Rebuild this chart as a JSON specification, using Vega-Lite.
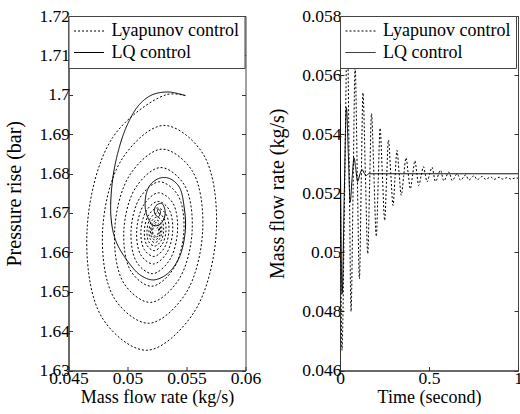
{
  "$schema": "https://vega.github.io/schema/vega-lite/v6.json",
  "padding": {"left": 3.5, "top": 6, "right": 0, "bottom": 0},
  "bounds": "flush",
  "spacing": 94.5,
  "background": "white",
  "config": {
    "font": "'Liberation Serif', 'Times New Roman', serif",
    "view": {"stroke": "#444", "strokeWidth": 1},
    "axis": {
      "labelFont": "'Liberation Serif', 'Times New Roman', serif", "titleFont": "'Liberation Serif', 'Times New Roman', serif",
      "labelFontSize": 17.5, "titleFontSize": 18, "titleFontWeight": "normal",
      "labelColor": "black", "titleColor": "black",
      "domainColor": "#333", "tickColor": "#333", "grid": false,
      "tickSize": -4, "labelPadding": 3, "labelFlush": false, "labelOverlap": false, "labelBound": false
    },
    "legend": {
      "labelFont": "'Liberation Serif', 'Times New Roman', serif", "labelFontSize": 18, "labelColor": "black"
    }
  },
  "datasets": {
    "phase": [
      {"series": "Lyapunov control", "step": 1, "flow": 0.0549, "pressure": 1.6998},
      {"series": "Lyapunov control", "step": 2, "flow": 0.05326, "pressure": 1.7000},
      {"series": "Lyapunov control", "step": 3, "flow": 0.04874, "pressure": 1.68913},
      {"series": "Lyapunov control", "step": 4, "flow": 0.04657, "pressure": 1.6655},
      {"series": "Lyapunov control", "step": 5, "flow": 0.04786, "pressure": 1.64334},
      {"series": "Lyapunov control", "step": 6, "flow": 0.05164, "pressure": 1.63514},
      {"series": "Lyapunov control", "step": 7, "flow": 0.05562, "pressure": 1.64471},
      {"series": "Lyapunov control", "step": 8, "flow": 0.05753, "pressure": 1.6655},
      {"series": "Lyapunov control", "step": 9, "flow": 0.05640, "pressure": 1.68501},
      {"series": "Lyapunov control", "step": 10, "flow": 0.05307, "pressure": 1.69222},
      {"series": "Lyapunov control", "step": 11, "flow": 0.04956, "pressure": 1.68380},
      {"series": "Lyapunov control", "step": 12, "flow": 0.04789, "pressure": 1.6655},
      {"series": "Lyapunov control", "step": 13, "flow": 0.04888, "pressure": 1.64834},
      {"series": "Lyapunov control", "step": 14, "flow": 0.05181, "pressure": 1.64199},
      {"series": "Lyapunov control", "step": 15, "flow": 0.05490, "pressure": 1.64940},
      {"series": "Lyapunov control", "step": 16, "flow": 0.05637, "pressure": 1.6655},
      {"series": "Lyapunov control", "step": 17, "flow": 0.05550, "pressure": 1.68061},
      {"series": "Lyapunov control", "step": 18, "flow": 0.05292, "pressure": 1.68619},
      {"series": "Lyapunov control", "step": 19, "flow": 0.05020, "pressure": 1.67967},
      {"series": "Lyapunov control", "step": 20, "flow": 0.04891, "pressure": 1.6655},
      {"series": "Lyapunov control", "step": 21, "flow": 0.04968, "pressure": 1.65221},
      {"series": "Lyapunov control", "step": 22, "flow": 0.05195, "pressure": 1.64729},
      {"series": "Lyapunov control", "step": 23, "flow": 0.05433, "pressure": 1.65303},
      {"series": "Lyapunov control", "step": 24, "flow": 0.05548, "pressure": 1.6655},
      {"series": "Lyapunov control", "step": 25, "flow": 0.05480, "pressure": 1.67720},
      {"series": "Lyapunov control", "step": 26, "flow": 0.05280, "pressure": 1.68152},
      {"series": "Lyapunov control", "step": 27, "flow": 0.05070, "pressure": 1.67647},
      {"series": "Lyapunov control", "step": 28, "flow": 0.04969, "pressure": 1.6655},
      {"series": "Lyapunov control", "step": 29, "flow": 0.05029, "pressure": 1.65521},
      {"series": "Lyapunov control", "step": 30, "flow": 0.05205, "pressure": 1.65140},
      {"series": "Lyapunov control", "step": 31, "flow": 0.05390, "pressure": 1.65584},
      {"series": "Lyapunov control", "step": 32, "flow": 0.05478, "pressure": 1.6655},
      {"series": "Lyapunov control", "step": 33, "flow": 0.05426, "pressure": 1.67456},
      {"series": "Lyapunov control", "step": 34, "flow": 0.05271, "pressure": 1.67791},
      {"series": "Lyapunov control", "step": 35, "flow": 0.05108, "pressure": 1.67400},
      {"series": "Lyapunov control", "step": 36, "flow": 0.05030, "pressure": 1.6655},
      {"series": "Lyapunov control", "step": 37, "flow": 0.05077, "pressure": 1.65753},
      {"series": "Lyapunov control", "step": 38, "flow": 0.05213, "pressure": 1.65458},
      {"series": "Lyapunov control", "step": 39, "flow": 0.05356, "pressure": 1.65802},
      {"series": "Lyapunov control", "step": 40, "flow": 0.05424, "pressure": 1.6655},
      {"series": "Lyapunov control", "step": 41, "flow": 0.05384, "pressure": 1.67252},
      {"series": "Lyapunov control", "step": 42, "flow": 0.05264, "pressure": 1.67511},
      {"series": "Lyapunov control", "step": 43, "flow": 0.05138, "pressure": 1.67208},
      {"series": "Lyapunov control", "step": 44, "flow": 0.05078, "pressure": 1.6655},
      {"series": "Lyapunov control", "step": 45, "flow": 0.05113, "pressure": 1.65933},
      {"series": "Lyapunov control", "step": 46, "flow": 0.05219, "pressure": 1.65704},
      {"series": "Lyapunov control", "step": 47, "flow": 0.05330, "pressure": 1.65971},
      {"series": "Lyapunov control", "step": 48, "flow": 0.05383, "pressure": 1.6655},
      {"series": "Lyapunov control", "step": 49, "flow": 0.05351, "pressure": 1.67093},
      {"series": "Lyapunov control", "step": 50, "flow": 0.05259, "pressure": 1.67294},
      {"series": "Lyapunov control", "step": 51, "flow": 0.05161, "pressure": 1.67060},
      {"series": "Lyapunov control", "step": 52, "flow": 0.05114, "pressure": 1.6655},
      {"series": "Lyapunov control", "step": 53, "flow": 0.05142, "pressure": 1.66072},
      {"series": "Lyapunov control", "step": 54, "flow": 0.05224, "pressure": 1.65895},
      {"series": "Lyapunov control", "step": 55, "flow": 0.05310, "pressure": 1.66102},
      {"series": "Lyapunov control", "step": 56, "flow": 0.05351, "pressure": 1.6655},
      {"series": "Lyapunov control", "step": 57, "flow": 0.05326, "pressure": 1.66971},
      {"series": "Lyapunov control", "step": 58, "flow": 0.05254, "pressure": 1.67126},
      {"series": "Lyapunov control", "step": 59, "flow": 0.05179, "pressure": 1.66945},
      {"series": "Lyapunov control", "step": 60, "flow": 0.05143, "pressure": 1.6655},
      {"series": "Lyapunov control", "step": 61, "flow": 0.05164, "pressure": 1.66180},
      {"series": "Lyapunov control", "step": 62, "flow": 0.05227, "pressure": 1.66043},
      {"series": "Lyapunov control", "step": 63, "flow": 0.05294, "pressure": 1.66203},
      {"series": "Lyapunov control", "step": 64, "flow": 0.05326, "pressure": 1.6655},
      {"series": "Lyapunov control", "step": 65, "flow": 0.05307, "pressure": 1.66876},
      {"series": "Lyapunov control", "step": 66, "flow": 0.05251, "pressure": 1.67000},
      {"series": "Lyapunov control", "step": 67, "flow": 0.05193, "pressure": 1.66856},
      {"series": "Lyapunov control", "step": 68, "flow": 0.05165, "pressure": 1.6655},
      {"series": "Lyapunov control", "step": 69, "flow": 0.05181, "pressure": 1.66263},
      {"series": "Lyapunov control", "step": 70, "flow": 0.05230, "pressure": 1.66157},
      {"series": "Lyapunov control", "step": 71, "flow": 0.05282, "pressure": 1.66281},
      {"series": "Lyapunov control", "step": 72, "flow": 0.05306, "pressure": 1.6655},
      {"series": "Lyapunov control", "step": 73, "flow": 0.05292, "pressure": 1.66802},
      {"series": "Lyapunov control", "step": 74, "flow": 0.05249, "pressure": 1.66896},
      {"series": "Lyapunov control", "step": 75, "flow": 0.05203, "pressure": 1.66787},
      {"series": "Lyapunov control", "step": 76, "flow": 0.05182, "pressure": 1.6655},
      {"series": "Lyapunov control", "step": 77, "flow": 0.05195, "pressure": 1.66328},
      {"series": "Lyapunov control", "step": 78, "flow": 0.05232, "pressure": 1.66246},
      {"series": "Lyapunov control", "step": 79, "flow": 0.05272, "pressure": 1.66342},
      {"series": "Lyapunov control", "step": 80, "flow": 0.05291, "pressure": 1.6655},
      {"series": "Lyapunov control", "step": 81, "flow": 0.05280, "pressure": 1.66745},
      {"series": "Lyapunov control", "step": 82, "flow": 0.05247, "pressure": 1.66818},
      {"series": "Lyapunov control", "step": 83, "flow": 0.05212, "pressure": 1.66733},
      {"series": "Lyapunov control", "step": 84, "flow": 0.05195, "pressure": 1.6655},
      {"series": "Lyapunov control", "step": 85, "flow": 0.05205, "pressure": 1.66378},
      {"series": "Lyapunov control", "step": 86, "flow": 0.05234, "pressure": 1.66315},
      {"series": "Lyapunov control", "step": 87, "flow": 0.05265, "pressure": 1.66389},
      {"series": "Lyapunov control", "step": 88, "flow": 0.05280, "pressure": 1.6655},
      {"series": "Lyapunov control", "step": 89, "flow": 0.05271, "pressure": 1.66701},
      {"series": "Lyapunov control", "step": 90, "flow": 0.05245, "pressure": 1.66757},
      {"series": "Lyapunov control", "step": 91, "flow": 0.05218, "pressure": 1.66692},
      {"series": "Lyapunov control", "step": 92, "flow": 0.05205, "pressure": 1.6655},
      {"series": "Lyapunov control", "step": 93, "flow": 0.05213, "pressure": 1.66417},
      {"series": "Lyapunov control", "step": 94, "flow": 0.05235, "pressure": 1.66368},
      {"series": "Lyapunov control", "step": 95, "flow": 0.05259, "pressure": 1.66425},
      {"series": "Lyapunov control", "step": 96, "flow": 0.05271, "pressure": 1.6655},
      {"series": "Lyapunov control", "step": 97, "flow": 0.05264, "pressure": 1.66667},
      {"series": "Lyapunov control", "step": 98, "flow": 0.05244, "pressure": 1.66711},
      {"series": "Lyapunov control", "step": 99, "flow": 0.05223, "pressure": 1.66660},
      {"series": "Lyapunov control", "step": 100, "flow": 0.05213, "pressure": 1.6655},
      {"series": "Lyapunov control", "step": 101, "flow": 0.05219, "pressure": 1.66447},
      {"series": "Lyapunov control", "step": 102, "flow": 0.05236, "pressure": 1.66409},
      {"series": "Lyapunov control", "step": 103, "flow": 0.05255, "pressure": 1.66453},
      {"series": "Lyapunov control", "step": 104, "flow": 0.05264, "pressure": 1.6655},
      {"series": "Lyapunov control", "step": 105, "flow": 0.05259, "pressure": 1.66641},
      {"series": "Lyapunov control", "step": 106, "flow": 0.0524, "pressure": 1.6655},
      {"series": "LQ control", "step": 1, "flow": 0.0549, "pressure": 1.6998},
      {"series": "LQ control", "step": 2, "flow": 0.0535, "pressure": 1.7007},
      {"series": "LQ control", "step": 3, "flow": 0.0521, "pressure": 1.7000},
      {"series": "LQ control", "step": 4, "flow": 0.0510, "pressure": 1.6975},
      {"series": "LQ control", "step": 5, "flow": 0.0500, "pressure": 1.6925},
      {"series": "LQ control", "step": 6, "flow": 0.0492, "pressure": 1.6855},
      {"series": "LQ control", "step": 7, "flow": 0.0487, "pressure": 1.6775},
      {"series": "LQ control", "step": 8, "flow": 0.0486, "pressure": 1.6690},
      {"series": "LQ control", "step": 9, "flow": 0.0490, "pressure": 1.6630},
      {"series": "LQ control", "step": 10, "flow": 0.0500, "pressure": 1.6578},
      {"series": "LQ control", "step": 11, "flow": 0.0511, "pressure": 1.6542},
      {"series": "LQ control", "step": 12, "flow": 0.0522, "pressure": 1.6530},
      {"series": "LQ control", "step": 13, "flow": 0.0534, "pressure": 1.6546},
      {"series": "LQ control", "step": 14, "flow": 0.0544, "pressure": 1.6588},
      {"series": "LQ control", "step": 15, "flow": 0.0549, "pressure": 1.6656},
      {"series": "LQ control", "step": 16, "flow": 0.0548, "pressure": 1.6715},
      {"series": "LQ control", "step": 17, "flow": 0.0544, "pressure": 1.6765},
      {"series": "LQ control", "step": 18, "flow": 0.0536, "pressure": 1.6787},
      {"series": "LQ control", "step": 19, "flow": 0.0528, "pressure": 1.6789},
      {"series": "LQ control", "step": 20, "flow": 0.0520, "pressure": 1.6774},
      {"series": "LQ control", "step": 21, "flow": 0.0516, "pressure": 1.6750},
      {"series": "LQ control", "step": 22, "flow": 0.0515, "pressure": 1.6715},
      {"series": "LQ control", "step": 23, "flow": 0.0517, "pressure": 1.6690},
      {"series": "LQ control", "step": 24, "flow": 0.0522, "pressure": 1.6668},
      {"series": "LQ control", "step": 25, "flow": 0.0528, "pressure": 1.6672},
      {"series": "LQ control", "step": 26, "flow": 0.0532, "pressure": 1.6700},
      {"series": "LQ control", "step": 27, "flow": 0.0529, "pressure": 1.6724},
      {"series": "LQ control", "step": 28, "flow": 0.0524, "pressure": 1.6718},
      {"series": "LQ control", "step": 29, "flow": 0.0523, "pressure": 1.6700},
      {"series": "LQ control", "step": 30, "flow": 0.0526, "pressure": 1.6690},
      {"series": "LQ control", "step": 31, "flow": 0.0528, "pressure": 1.6703},
      {"series": "LQ control", "step": 32, "flow": 0.0526, "pressure": 1.6710},
      {"series": "LQ control", "step": 33, "flow": 0.05255, "pressure": 1.6703},
      {"series": "LQ control", "step": 34, "flow": 0.05266, "pressure": 1.6700}
    ],
    "response": [
      {"series": "Lyapunov control", "time": 0, "flow": 0.0550},
      {"series": "Lyapunov control", "time": 0.011, "flow": 0.04668},
      {"series": "Lyapunov control", "time": 0.026, "flow": 0.0521},
      {"series": "Lyapunov control", "time": 0.041, "flow": 0.0575},
      {"series": "Lyapunov control", "time": 0.052, "flow": 0.05275},
      {"series": "Lyapunov control", "time": 0.062, "flow": 0.0480},
      {"series": "Lyapunov control", "time": 0.0735, "flow": 0.05215},
      {"series": "Lyapunov control", "time": 0.085, "flow": 0.0563},
      {"series": "Lyapunov control", "time": 0.097, "flow": 0.0527},
      {"series": "Lyapunov control", "time": 0.109, "flow": 0.0491},
      {"series": "Lyapunov control", "time": 0.119, "flow": 0.05225},
      {"series": "Lyapunov control", "time": 0.129, "flow": 0.0554},
      {"series": "Lyapunov control", "time": 0.1425, "flow": 0.05268},
      {"series": "Lyapunov control", "time": 0.156, "flow": 0.04995},
      {"series": "Lyapunov control", "time": 0.1665, "flow": 0.05233},
      {"series": "Lyapunov control", "time": 0.177, "flow": 0.0547},
      {"series": "Lyapunov control", "time": 0.1905, "flow": 0.05262},
      {"series": "Lyapunov control", "time": 0.204, "flow": 0.05054},
      {"series": "Lyapunov control", "time": 0.2145, "flow": 0.05237},
      {"series": "Lyapunov control", "time": 0.225, "flow": 0.0542},
      {"series": "Lyapunov control", "time": 0.238, "flow": 0.05264},
      {"series": "Lyapunov control", "time": 0.251, "flow": 0.05108},
      {"series": "Lyapunov control", "time": 0.2615, "flow": 0.05244},
      {"series": "Lyapunov control", "time": 0.272, "flow": 0.0538},
      {"series": "Lyapunov control", "time": 0.285, "flow": 0.0527},
      {"series": "Lyapunov control", "time": 0.298, "flow": 0.05159},
      {"series": "Lyapunov control", "time": 0.309, "flow": 0.05252},
      {"series": "Lyapunov control", "time": 0.320, "flow": 0.05345},
      {"series": "Lyapunov control", "time": 0.332, "flow": 0.05269},
      {"series": "Lyapunov control", "time": 0.344, "flow": 0.05193},
      {"series": "Lyapunov control", "time": 0.3575, "flow": 0.05257},
      {"series": "Lyapunov control", "time": 0.371, "flow": 0.0532},
      {"series": "Lyapunov control", "time": 0.383, "flow": 0.05268},
      {"series": "Lyapunov control", "time": 0.395, "flow": 0.05215},
      {"series": "Lyapunov control", "time": 0.408, "flow": 0.05262},
      {"series": "Lyapunov control", "time": 0.421, "flow": 0.0531},
      {"series": "Lyapunov control", "time": 0.4315, "flow": 0.05268},
      {"series": "Lyapunov control", "time": 0.442, "flow": 0.05226},
      {"series": "Lyapunov control", "time": 0.4555, "flow": 0.05258},
      {"series": "Lyapunov control", "time": 0.469, "flow": 0.0529},
      {"series": "Lyapunov control", "time": 0.479, "flow": 0.05264},
      {"series": "Lyapunov control", "time": 0.489, "flow": 0.05238},
      {"series": "Lyapunov control", "time": 0.503, "flow": 0.05263},
      {"series": "Lyapunov control", "time": 0.517, "flow": 0.05288},
      {"series": "Lyapunov control", "time": 0.536, "flow": 0.05240},
      {"series": "Lyapunov control", "time": 0.565, "flow": 0.05278},
      {"series": "Lyapunov control", "time": 0.583, "flow": 0.05242},
      {"series": "Lyapunov control", "time": 0.612, "flow": 0.05272},
      {"series": "Lyapunov control", "time": 0.630, "flow": 0.05243},
      {"series": "Lyapunov control", "time": 0.659, "flow": 0.05266},
      {"series": "Lyapunov control", "time": 0.677, "flow": 0.05244},
      {"series": "Lyapunov control", "time": 0.706, "flow": 0.05262},
      {"series": "Lyapunov control", "time": 0.724, "flow": 0.05245},
      {"series": "Lyapunov control", "time": 0.753, "flow": 0.05259},
      {"series": "Lyapunov control", "time": 0.771, "flow": 0.05246},
      {"series": "Lyapunov control", "time": 0.800, "flow": 0.05257},
      {"series": "Lyapunov control", "time": 0.818, "flow": 0.05247},
      {"series": "Lyapunov control", "time": 0.847, "flow": 0.05255},
      {"series": "Lyapunov control", "time": 0.865, "flow": 0.05247},
      {"series": "Lyapunov control", "time": 0.894, "flow": 0.05254},
      {"series": "Lyapunov control", "time": 0.912, "flow": 0.05248},
      {"series": "Lyapunov control", "time": 0.941, "flow": 0.05253},
      {"series": "Lyapunov control", "time": 0.959, "flow": 0.05248},
      {"series": "Lyapunov control", "time": 0.988, "flow": 0.05252},
      {"series": "Lyapunov control", "time": 1.0, "flow": 0.05251},
      {"series": "LQ control", "time": 0, "flow": 0.0550},
      {"series": "LQ control", "time": 0.012, "flow": 0.0486},
      {"series": "LQ control", "time": 0.024, "flow": 0.0520},
      {"series": "LQ control", "time": 0.036, "flow": 0.0549},
      {"series": "LQ control", "time": 0.047, "flow": 0.0533},
      {"series": "LQ control", "time": 0.057, "flow": 0.0517},
      {"series": "LQ control", "time": 0.068, "flow": 0.0525},
      {"series": "LQ control", "time": 0.079, "flow": 0.0532},
      {"series": "LQ control", "time": 0.089, "flow": 0.0528},
      {"series": "LQ control", "time": 0.099, "flow": 0.0524},
      {"series": "LQ control", "time": 0.112, "flow": 0.05265},
      {"series": "LQ control", "time": 0.124, "flow": 0.0528},
      {"series": "LQ control", "time": 0.136, "flow": 0.05268},
      {"series": "LQ control", "time": 0.148, "flow": 0.0526},
      {"series": "LQ control", "time": 0.16, "flow": 0.05266},
      {"series": "LQ control", "time": 1.0, "flow": 0.05266}
    ]
  },
  "resolve": {"scale": {"strokeDash": "independent"}, "legend": {"strokeDash": "independent"}},
  "hconcat": [
    {
      "width": 177,
      "height": 354.5,
      "data": {"name": "phase"},
      "layer": [
        {
          "transform": [{"filter": "datum.series == 'Lyapunov control'"}],
          "mark": {"type": "line", "interpolate": "catmull-rom", "stroke": "black", "strokeWidth": 1, "clip": true},
          "encoding": {
            "x": {"field": "flow", "type": "quantitative", "scale": {"domain": [0.045, 0.06], "nice": false, "zero": false},
                  "axis": {"values": [0.045, 0.05, 0.055, 0.06], "format": ".3~f", "title": "Mass flow rate (kg/s)", "titlePadding": 1}},
            "y": {"field": "pressure", "type": "quantitative", "scale": {"domain": [1.63, 1.72], "nice": false, "zero": false},
                  "axis": {"values": [1.63, 1.64, 1.65, 1.66, 1.67, 1.68, 1.69, 1.7, 1.71, 1.72], "format": ".2~f", "title": "Pressure rise (bar)", "titleFontSize": 20, "titlePadding": 14}},
            "order": {"field": "step", "type": "quantitative"},
            "strokeDash": {"field": "series", "type": "nominal",
              "scale": {"domain": ["Lyapunov control", "LQ control"], "range": [[2, 2], [1, 0]]},
              "legend": {"orient": "none", "legendX": 0, "legendY": 0, "title": null, "fillColor": "white", "strokeColor": "#444", "padding": 5, "symbolType": "stroke", "symbolSize": 900, "symbolStrokeWidth": 1, "symbolStrokeColor": "black", "labelOffset": 7, "rowPadding": 1.5, "clipHeight": 20}}
          }
        },
        {
          "transform": [{"filter": "datum.series == 'LQ control'"}],
          "mark": {"type": "line", "interpolate": "catmull-rom", "stroke": "black", "strokeWidth": 1, "clip": true},
          "encoding": {
            "x": {"field": "flow", "type": "quantitative", "scale": {"domain": [0.045, 0.06], "nice": false, "zero": false}},
            "y": {"field": "pressure", "type": "quantitative", "scale": {"domain": [1.63, 1.72], "nice": false, "zero": false},
                  "axis": {"orient": "right", "labels": false, "title": null, "domain": false, "values": [1.63, 1.64, 1.65, 1.66, 1.67, 1.68, 1.69, 1.7, 1.71, 1.72]}},
            "order": {"field": "step", "type": "quantitative"},
            "strokeDash": {"field": "series", "type": "nominal",
              "scale": {"domain": ["Lyapunov control", "LQ control"], "range": [[2, 2], [1, 0]]},
              "legend": {"orient": "none", "legendX": 0, "legendY": 0, "title": null, "fillColor": "white", "strokeColor": "#444", "padding": 5, "symbolType": "stroke", "symbolSize": 900, "symbolStrokeWidth": 1, "symbolStrokeColor": "black", "labelOffset": 7, "rowPadding": 1.5, "clipHeight": 20}}
          }
        }
      ],
      "resolve": {"axis": {"y": "independent"}}
    },
    {
      "width": 178,
      "height": 354.5,
      "data": {"name": "response"},
      "layer": [
        {
          "transform": [{"filter": "datum.series == 'Lyapunov control'"}],
          "mark": {"type": "line", "interpolate": "monotone", "stroke": "black", "strokeWidth": 1, "clip": true},
          "encoding": {
            "x": {"field": "time", "type": "quantitative", "scale": {"domain": [0, 1], "nice": false, "zero": false},
                  "axis": {"values": [0, 0.5, 1], "format": ".1~f", "title": "Time (second)", "titlePadding": 1}},
            "y": {"field": "flow", "type": "quantitative", "scale": {"domain": [0.046, 0.058], "nice": false, "zero": false},
                  "axis": {"values": [0.046, 0.048, 0.05, 0.052, 0.054, 0.056, 0.058], "format": ".3~f", "title": "Mass flow rate (kg/s)", "titleFontSize": 20, "titlePadding": 14}},
            "strokeDash": {"field": "series", "type": "nominal",
              "scale": {"domain": ["Lyapunov control", "LQ control"], "range": [[2, 2], [1, 0]]},
              "legend": {"orient": "none", "legendX": 0, "legendY": 0, "title": null, "fillColor": "white", "strokeColor": "#444", "padding": 5, "symbolType": "stroke", "symbolSize": 900, "symbolStrokeWidth": 1, "symbolStrokeColor": "black", "labelOffset": 7, "rowPadding": 1.5, "clipHeight": 20}}
          }
        },
        {
          "transform": [{"filter": "datum.series == 'LQ control'"}],
          "mark": {"type": "line", "interpolate": "monotone", "stroke": "black", "strokeWidth": 1, "clip": true},
          "encoding": {
            "x": {"field": "time", "type": "quantitative", "scale": {"domain": [0, 1], "nice": false, "zero": false}},
            "y": {"field": "flow", "type": "quantitative", "scale": {"domain": [0.046, 0.058], "nice": false, "zero": false},
                  "axis": {"orient": "right", "labels": false, "title": null, "domain": false, "values": [0.046, 0.048, 0.05, 0.052, 0.054, 0.056, 0.058]}},
            "strokeDash": {"field": "series", "type": "nominal",
              "scale": {"domain": ["Lyapunov control", "LQ control"], "range": [[2, 2], [1, 0]]},
              "legend": {"orient": "none", "legendX": 0, "legendY": 0, "title": null, "fillColor": "white", "strokeColor": "#444", "padding": 5, "symbolType": "stroke", "symbolSize": 900, "symbolStrokeWidth": 1, "symbolStrokeColor": "black", "labelOffset": 7, "rowPadding": 1.5, "clipHeight": 20}}
          }
        }
      ],
      "resolve": {"axis": {"y": "independent"}}
    }
  ]
}
